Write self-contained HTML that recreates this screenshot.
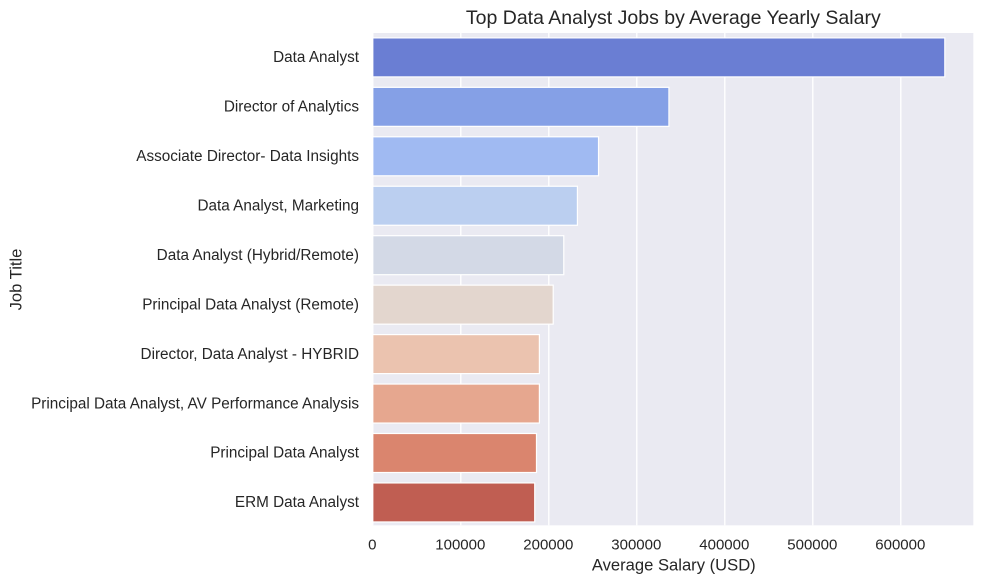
<!DOCTYPE html>
<html>
<head>
<meta charset="utf-8">
<style>
html,body{margin:0;padding:0;background:#fff;}
svg{display:block;font-family:"Liberation Sans",Arial,sans-serif;fill:#262626;}
</style>
</head>
<body>
<svg id="chart" width="984" height="584" viewBox="0 0 984 584" xmlns="http://www.w3.org/2000/svg"></svg>
<script>
const jobTitles = ["Data Analyst","Director of Analytics","Associate Director- Data Insights","Data Analyst, Marketing","Data Analyst (Hybrid/Remote)","Principal Data Analyst (Remote)","Director, Data Analyst - HYBRID","Principal Data Analyst, AV Performance Analysis","Principal Data Analyst","ERM Data Analyst"];
const salaries = [650000,336500,256500,232500,217000,205000,189300,189300,186000,184000];
const barColors = ["#6a7ed3","#85a0e6","#a0baf2","#bbcff0","#d3d9e6","#e3d6ce","#ebc3af","#e6a78f","#da856e","#c05e52"];
const xTicks = [0,100000,200000,300000,400000,500000,600000];

const svg = document.getElementById('chart');
const NS = 'http://www.w3.org/2000/svg';
const plotLeft = 372.8, plotRight = 973.3, plotTop = 33, plotBottom = 525.3;
const pxPerUnit = 0.00088;
const xScale = v => plotLeft + v * pxPerUnit;
const firstBandCenter = 57.4;
const bandStep = 49.45;
const yBand = i => firstBandCenter + bandStep * i;
function add(tag, attrs, text){
  const el = document.createElementNS(NS, tag);
  for (const k in attrs) el.setAttribute(k, attrs[k]);
  if (text !== undefined) el.textContent = text;
  svg.appendChild(el);
  return el;
}

const bg = add('rect', {x:plotLeft, y:plotTop, width:plotRight-plotLeft, height:plotBottom-plotTop, fill:'#eaeaf2'});



xTicks.forEach(t => {
  const g = add('line', {x1:xScale(t), x2:xScale(t), y1:plotTop, y2:plotBottom, stroke:'#ffffff', 'stroke-width':1.4});
  
  
  const l = add('text', {x:xScale(t)-0.5, y:549.6, 'text-anchor':'middle', 'font-size':15}, String(t));
  
  
});

jobTitles.forEach((name, i) => {
  const h = 39;
  const b = add('rect', {x:xScale(0), y:yBand(i)-h/2, width:xScale(salaries[i])-xScale(0), height:h, fill:barColors[i], stroke:'#ffffff', 'stroke-width':1.2});
  
  
  const l = add('text', {x:359, y:yBand(i)+4.7, 'text-anchor':'end', 'font-size':15.3}, name);
  
  
});

const title = add('text', {x:673.3, y:24, 'text-anchor':'middle', 'font-size':19.5}, 'Top Data Analyst Jobs by Average Yearly Salary');



const xTitle = add('text', {x:673.8, y:570.7, 'text-anchor':'middle', 'font-size':16.6}, 'Average Salary (USD)');



const yTitle = add('text', {x:0, y:0, 'text-anchor':'middle', 'font-size':16.6, transform:'translate(21.5,279.5) rotate(-90)'}, 'Job Title');


</script>
</body>
</html>
